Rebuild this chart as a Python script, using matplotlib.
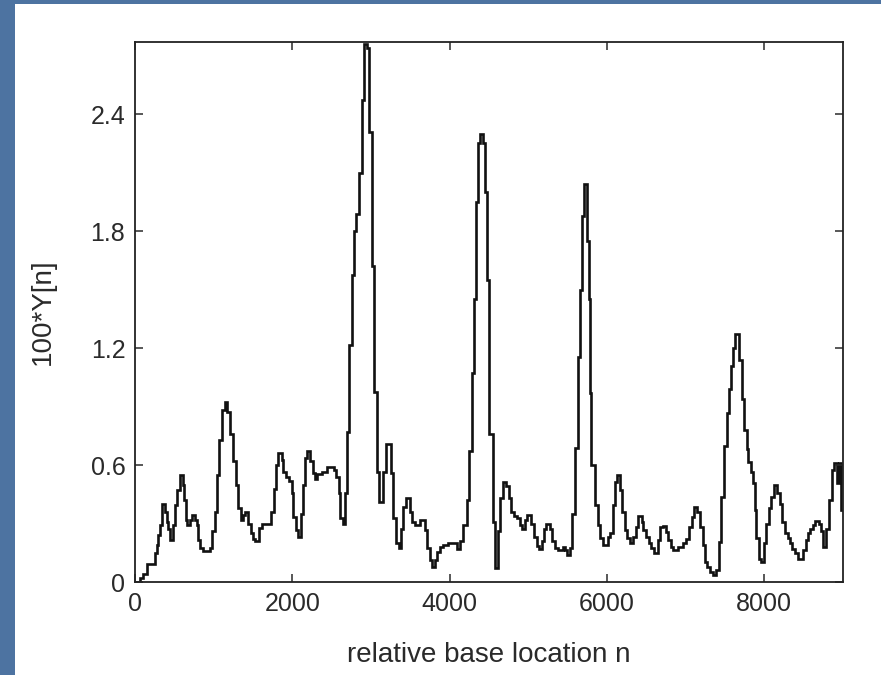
import matplotlib
matplotlib.use("Agg")
import matplotlib.pyplot as plt
from matplotlib.patches import Rectangle

# Step start positions (relative base location n) and values of 100*Y[n]
n_start = [0, 60, 105, 150, 255, 275, 297, 318, 340, 380, 402, 424, 445, 487, 508, 530, 572, 606, 627, 648,
           665, 699, 720, 763, 784, 805, 826, 860, 953, 974, 1017, 1046, 1072, 1101, 1144, 1173, 1207, 1250,
           1284, 1313, 1343, 1377, 1398, 1440, 1470, 1495, 1525, 1580, 1610, 1735, 1765, 1790, 1820, 1865,
           1885, 1920, 1960, 1990, 2010, 2045, 2075, 2105, 2130, 2160, 2190, 2225, 2260, 2290, 2310, 2375,
           2440, 2525, 2560, 2590, 2610, 2640, 2670, 2700, 2725, 2755, 2783, 2815, 2845, 2880, 2915, 2945,
           2980, 3010, 3040, 3072, 3105, 3148, 3190, 3250, 3285, 3320, 3350, 3380, 3410, 3445, 3495, 3525,
           3560, 3620, 3685, 3715, 3750, 3770, 3815, 3845, 3880, 3920, 3985, 4090, 4130, 4175, 4215, 4250,
           4280, 4310, 4340, 4365, 4390, 4430, 4455, 4480, 4504, 4546, 4575, 4615, 4645, 4680, 4720, 4755,
           4785, 4815, 4850, 4890, 4920, 4955, 4985, 5040, 5070, 5105, 5140, 5170, 5200, 5230, 5275, 5305,
           5340, 5380, 5435, 5465, 5495, 5530, 5560, 5590, 5625, 5655, 5680, 5705, 5745, 5765, 5783, 5800,
           5850, 5880, 5910, 5950, 6010, 6040, 6070, 6100, 6130, 6165, 6195, 6225, 6255, 6290, 6335, 6365,
           6395, 6440, 6460, 6495, 6535, 6565, 6595, 6650, 6680, 6715, 6750, 6780, 6810, 6840, 6905, 6960,
           7010, 7045, 7075, 7105, 7145, 7180, 7215, 7245, 7275, 7305, 7350, 7390, 7425, 7455, 7485, 7520,
           7550, 7575, 7600, 7625, 7680, 7710, 7740, 7775, 7795, 7825, 7850, 7880, 7900, 7935, 7955, 7997,
           8027, 8060, 8090, 8120, 8160, 8195, 8230, 8260, 8300, 8330, 8355, 8385, 8425, 8490, 8525, 8555,
           8585, 8615, 8650, 8690, 8720, 8750, 8790, 8825, 8855, 8890, 8920, 8945, 8975]
y100 = [0.00, 0.02, 0.04, 0.09, 0.15, 0.19, 0.24, 0.29, 0.40, 0.36, 0.31, 0.27, 0.215, 0.29, 0.395, 0.47, 0.55, 0.50, 0.42, 0.32,
        0.29, 0.32, 0.345, 0.32, 0.29, 0.215, 0.175, 0.16, 0.175, 0.26, 0.36, 0.55, 0.73, 0.88, 0.925, 0.87, 0.76, 0.62,
        0.50, 0.38, 0.32, 0.345, 0.36, 0.30, 0.25, 0.22, 0.21, 0.275, 0.30, 0.36, 0.475, 0.60, 0.66, 0.625,
        0.565, 0.54, 0.52, 0.455, 0.335, 0.265, 0.23, 0.35, 0.50, 0.635, 0.67, 0.62, 0.56, 0.53, 0.555, 0.565,
        0.59, 0.575, 0.54, 0.455, 0.33, 0.30, 0.455, 0.77, 1.215, 1.574, 1.80, 1.89, 2.10, 2.47, 2.76, 2.74,
        2.31, 1.62, 0.976, 0.565, 0.41, 0.565, 0.71, 0.56, 0.33, 0.20, 0.174, 0.27, 0.386, 0.43, 0.36, 0.31,
        0.29, 0.32, 0.265, 0.175, 0.113, 0.075, 0.113, 0.155, 0.18, 0.19, 0.20, 0.17, 0.21, 0.29, 0.42, 0.67,
        1.07, 1.45, 1.95, 2.25, 2.30, 2.25, 2.00, 1.55, 0.76, 0.31, 0.07, 0.26, 0.43, 0.515, 0.49, 0.43,
        0.36, 0.34, 0.33, 0.29, 0.27, 0.32, 0.345, 0.30, 0.23, 0.185, 0.17, 0.21, 0.27, 0.30, 0.27, 0.21,
        0.175, 0.165, 0.18, 0.165, 0.14, 0.175, 0.35, 0.685, 1.155, 1.50, 1.88, 2.04, 1.75, 1.45, 0.97, 0.60,
        0.395, 0.29, 0.225, 0.19, 0.23, 0.25, 0.395, 0.515, 0.55, 0.47, 0.36, 0.267, 0.224, 0.20, 0.23, 0.28,
        0.34, 0.31, 0.267, 0.23, 0.20, 0.173, 0.15, 0.215, 0.28, 0.285, 0.255, 0.215, 0.18, 0.163, 0.18, 0.20,
        0.22, 0.28, 0.335, 0.386, 0.36, 0.28, 0.19, 0.104, 0.078, 0.053, 0.036, 0.06, 0.207, 0.437, 0.70, 0.865,
        0.99, 1.11, 1.20, 1.27, 1.14, 0.94, 0.78, 0.68, 0.617, 0.565, 0.51, 0.37, 0.224, 0.12, 0.105, 0.20,
        0.30, 0.38, 0.437, 0.497, 0.455, 0.40, 0.31, 0.25, 0.224, 0.20, 0.17, 0.147, 0.12, 0.165, 0.215, 0.25,
        0.27, 0.29, 0.315, 0.30, 0.26, 0.18, 0.27, 0.42, 0.575, 0.61, 0.51, 0.61, 0.37]
n_end = 9000

x_ticks = [0, 2000, 4000, 6000, 8000]
x_ticklabels = ["0", "2000", "4000", "6000", "8000"]
y_ticks = [0, 0.6, 1.2, 1.8, 2.4]
y_ticklabels = ["0", "0.6", "1.2", "1.8", "2.4"]

plt.rcParams['font.family'] = ['Liberation Sans', 'DejaVu Sans']

W, H = 881, 675
fig = plt.figure(figsize=(W / 100, H / 100), dpi=100)
fig.patch.set_facecolor('#4d73a1')
fig.patches.append(Rectangle((15 / W, 0), 1 - 15 / W, (H - 4) / H, transform=fig.transFigure,
                             facecolor='white', edgecolor='none', zorder=-10))

ax = fig.add_axes([135 / W, (H - 582) / H, (843 - 135) / W, (582 - 42) / H])
ax.set_zorder(5)
ax.set_facecolor('white')
ax.stairs(y100, n_start + [n_end], baseline=None, color='#111111', linewidth=1.9)

ax.set_xlim(0, 9000)
ax.set_ylim(0, 2.77)
ax.set_xticks(x_ticks)
ax.set_xticklabels(x_ticklabels)
ax.set_yticks(y_ticks)
ax.set_yticklabels(y_ticklabels)
ax.tick_params(direction='in', top=True, right=True, length=6, width=1.1,
               labelsize=18, colors='#2a2a2a', pad=7)
for s in ax.spines.values():
    s.set_linewidth(1.3)
    s.set_color('#222222')

ax.set_xlabel('relative base location n', fontsize=20, color='#2a2a2a', labelpad=19)
ax.set_ylabel('100*Y[n]', fontsize=20, color='#2a2a2a', labelpad=25)

fig.savefig('out.png', dpi=100, facecolor=fig.get_facecolor())
